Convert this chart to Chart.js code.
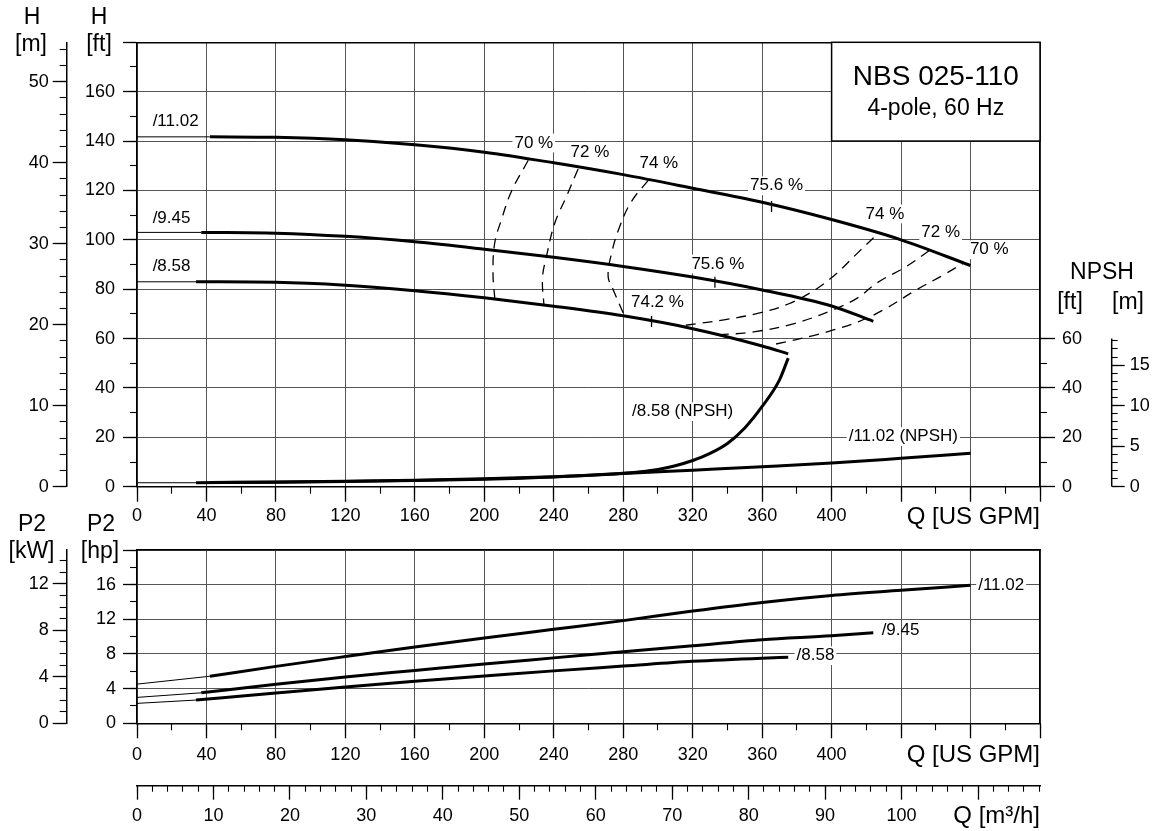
<!DOCTYPE html>
<html lang="en">
<head>
<meta charset="utf-8">
<title>NBS 025-110, 4-pole, 60 Hz</title>
<script src="https://cdn.jsdelivr.net/npm/chart.js@4.4.1/dist/chart.umd.min.js"></script>
<style>
  html, body { margin: 0; padding: 0; background: #fff; }
  #page { position: relative; width: 1152px; height: 831px; overflow: hidden; background: #fff; }
  #page canvas { position: absolute; left: 0; }
  #power { top: 500px; }
  #head { top: 0; }
</style>
</head>
<body>
<div id="page">
  <canvas id="power" width="1152" height="331"></canvas>
  <canvas id="head" width="1152" height="530"></canvas>
</div>
<script>
// unit conversions used by the secondary axes
const FT_PER_M = 3.28084;
const HP_PER_KW = 1.34102;
const GPM_PER_M3H = 4.402868;
const Q_MAX = 520;   // US GPM
const H_MAX = 180;   // ft
const P_MAX = 20;    // hp

// ---- head curves [ft] vs Q [US GPM] (solid part) ----
const qHead1102 = [42, 80, 120, 160, 200, 240, 280, 320, 360, 400, 440, 480];
const head1102  = [141.7, 141.5, 140.5, 138.5, 135.5, 131.2, 126.4, 120.9, 115.2, 108.2, 100.0, 89.6];
const qHead945  = [37, 80, 120, 160, 200, 240, 280, 320, 360, 400, 424];
const head945   = [103.0, 102.7, 101.4, 99.2, 96.2, 92.9, 89.2, 84.9, 79.7, 73.2, 67.0];
const qHead858  = [34, 80, 120, 160, 200, 240, 280, 320, 360, 375];
const head858   = [83.0, 82.8, 81.6, 79.4, 76.5, 73.1, 69.2, 64.0, 57.0, 53.8];

// ---- NPSH [ft] ----
const qNpsh1102 = [42, 80, 120, 160, 200, 240, 280, 320, 360, 400, 440, 480];
const npsh1102  = [1.7, 1.9, 2.2, 2.6, 3.2, 4.0, 5.3, 6.7, 8.1, 9.6, 11.5, 13.5];
const qNpsh858  = [34, 80, 120, 160, 200, 240, 270, 290, 300, 310, 320, 330, 340, 350, 360, 370, 375];
const npsh858   = [1.6, 1.8, 2.1, 2.5, 3.0, 3.9, 5.0, 6.1, 7.0, 8.5, 10.6, 13.5, 17.5, 23.8, 32.5, 43.3, 52.1];
const npshAtZero = 1.6;

// ---- iso-efficiency lines [Q, ft] ----
const qEta70a = [225.3, 215.6, 209.9, 206.0, 205.0, 206.0];
const hEta70a = [132.2, 119.6, 108.2, 98.7, 86.5, 76.4];
const qEta72a = [254.0, 247.3, 240.6, 235.8, 233.5, 234.3];
const hEta72a = [128.7, 117.6, 106.8, 93.3, 84.5, 73.7];
const qEta74a = [294.4, 284.8, 278.0, 273.3, 271.3, 274.2, 280.0];
const hEta74a = [124.1, 115.6, 105.4, 94.6, 85.2, 79.8, 70.3];
const qEta74b = [316, 338, 358, 375, 391, 403, 414, 426];
const hEta74b = [65.4, 67.6, 70.3, 74.0, 80.0, 86.5, 94.0, 102.1];
const qEta72b = [335, 355, 378, 401, 415, 426, 443, 457];
const hEta72b = [61.5, 62.7, 66.0, 71.7, 76.5, 82.5, 89.2, 96.0];
const qEta70b = [368, 390, 401, 416, 430, 449, 465, 476];
const hEta70b = [57.8, 61.3, 63.5, 67.0, 71.7, 79.8, 86.0, 90.6];
// best efficiency marks on each impeller curve
const qBep = [365.4, 332.8, 296.3];
const hBep = [113.5, 82.8, 66.9];

// ---- shaft power P2 [hp] ----
const qP1102 = [42, 80, 120, 160, 200, 240, 280, 320, 360, 400, 440, 480];
const p1102  = [5.43, 6.57, 7.7, 8.8, 9.85, 10.85, 11.85, 12.95, 13.95, 14.75, 15.35, 15.93];
const qP945  = [37, 80, 120, 160, 200, 240, 280, 320, 360, 400, 424];
const p945   = [3.52, 4.5, 5.35, 6.1, 6.85, 7.55, 8.25, 8.95, 9.65, 10.1, 10.45];
const qP858  = [34, 80, 120, 160, 200, 240, 280, 320, 360, 375];
const p858   = [2.68, 3.5, 4.2, 4.85, 5.45, 6.05, 6.6, 7.15, 7.52, 7.62];
const pAtZero = [4.52, 2.99, 2.3];   // /11.02, /9.45, /8.58

const FONT = "'Liberation Sans', Arial, Helvetica, sans-serif";
Chart.defaults.font.family = FONT;
Chart.defaults.color = '#000';

const GRID = '#555';
const INK = '#000';

const pts = (qs, vs) => qs.map((q, i) => ({ x: q, y: vs[i] }));
const stub = (v0, q1, v1) => [{ x: 0, y: v0 }, { x: q1, y: v1 }];
const hideAbove = lim => c => (c.tick && c.tick.value > lim + 1e-6) ? 'rgba(0,0,0,0)' : INK;
const fixW = w => s => { s.width = w; };
const fixH = h => s => { s.height = h; };

function curve(data, xId, yId, width) {
  return { type: 'line', data: data, xAxisID: xId, yAxisID: yId, borderColor: INK,
           borderWidth: width, pointRadius: 0, fill: false, cubicInterpolationMode: 'monotone' };
}
function dashed(data) {
  return { type: 'line', data: data, xAxisID: 'x', yAxisID: 'y', borderColor: INK,
           borderWidth: 1.3, borderDash: [10, 7], pointRadius: 0, fill: false, tension: 0.4 };
}

// main labelled axis
function mainAxis(pos, weight, max, step, len, pad, size, labelFn, gridOn, tickColor) {
  return {
    type: 'linear', position: pos, weight: weight, min: 0, max: max,
    ticks: { stepSize: step, autoSkip: false, maxRotation: 0, includeBounds: false,
             padding: pad, font: { size: 18 }, callback: labelFn },
    grid: { drawOnChartArea: gridOn, color: GRID, lineWidth: 1, tickLength: len,
            tickColor: tickColor || INK, tickWidth: 1.3 },
    border: { display: true, color: INK, width: 1.5 },
    afterFit: (pos === 'left' || pos === 'right') ? fixW(size) : fixH(size)
  };
}
// unlabelled axis that only carries the short minor ticks
function minorAxis(pos, weight, max, step, len, tickColor) {
  return {
    type: 'linear', position: pos, weight: weight, min: 0, max: max,
    ticks: { stepSize: step, display: false, includeBounds: false },
    grid: { drawOnChartArea: false, lineWidth: 1, tickLength: len, tickColor: tickColor || INK, tickWidth: 1.1 },
    border: { display: false },
    afterFit: (pos === 'left' || pos === 'right') ? fixW(0) : fixH(0)
  };
}
function frameAxis(pos, size) {
  return {
    type: 'linear', position: pos,
    ticks: { display: false }, grid: { drawOnChartArea: false, drawTicks: false },
    border: { display: true, color: INK, width: 1.5 },
    afterFit: (pos === 'left' || pos === 'right') ? fixW(size) : fixH(size)
  };
}

function putText(ctx, text, x, y, size, align, bg) {
  ctx.font = size + 'px ' + FONT;
  ctx.textAlign = align;
  ctx.textBaseline = 'middle';
  if (bg) {
    const w = ctx.measureText(text).width;
    const x0 = align === 'center' ? x - w / 2 : align === 'right' ? x - w : x;
    ctx.fillStyle = '#fff';
    ctx.fillRect(x0 - 2, y - size * 0.55, w + 4, size * 1.1);
  }
  ctx.fillStyle = INK;
  ctx.fillText(text, x, y);
}

function textPlugin(cfg) {
  return {
    id: 'sheetText',
    afterDatasetsDraw(chart) {
      const ctx = chart.ctx;
      const xs = chart.scales[cfg.xAxis], ys = chart.scales[cfg.yAxis];
      ctx.save();
      if (cfg.box) {
        const b = cfg.box;
        const x0 = xs.getPixelForValue(b.q0), x1 = xs.getPixelForValue(b.q1);
        const y0 = ys.getPixelForValue(b.v0), y1 = ys.getPixelForValue(b.v1);
        ctx.fillStyle = '#fff';
        ctx.fillRect(x0, y0, x1 - x0, y1 - y0);
        ctx.strokeStyle = INK;
        ctx.lineWidth = 1.5;
        ctx.strokeRect(x0, y0, x1 - x0, y1 - y0);
        ctx.fillStyle = INK;
        ctx.textAlign = 'center';
        ctx.textBaseline = 'alphabetic';
        ctx.font = '28px ' + FONT;
        ctx.fillText(b.line1, (x0 + x1) / 2, y0 + 42.7);
        ctx.font = '23px ' + FONT;
        ctx.fillText(b.line2, (x0 + x1) / 2, y0 + 72.7);
      }
      if (cfg.shortAxis) {
        // the NPSH [m] axis line only runs from 0 to 60 ft
        const s = chart.scales[cfg.shortAxis.id];
        ctx.strokeStyle = INK;
        ctx.lineWidth = 1.5;
        ctx.beginPath();
        ctx.moveTo(s.left, s.getPixelForValue(0));
        ctx.lineTo(s.left, s.getPixelForValue(cfg.shortAxis.top));
        ctx.stroke();
      }
      for (const t of cfg.titles) putText(ctx, t.text, t.x, t.y, t.size, t.align || 'center', false);
      for (const l of cfg.labels) {
        putText(ctx, l.text, xs.getPixelForValue(l.q), ys.getPixelForValue(l.v), 17, l.align || 'center', l.bg);
      }
      ctx.restore();
    }
  };
}

// ================= head / NPSH chart =================
const headText = {
  xAxis: 'x', yAxis: 'y',
  box: { q0: 400, q1: 520, v0: 180, v1: 140, line1: 'NBS 025-110', line2: '4-pole, 60 Hz' },
  shortAxis: { id: 'ynm', top: 60 / FT_PER_M },
  titles: [
    { text: 'H', x: 32, y: 18, size: 23 }, { text: '[m]', x: 31, y: 45, size: 23 },
    { text: 'H', x: 99, y: 18, size: 23 }, { text: '[ft]', x: 99, y: 45, size: 23 },
    { text: 'NPSH', x: 1102, y: 273, size: 23 },
    { text: '[ft]', x: 1070, y: 303, size: 23 }, { text: '[m]', x: 1128, y: 303, size: 23 },
    { text: 'Q [US GPM]', x: 1040, y: 517, size: 24, align: 'right' }
  ],
  labels: [
    { text: '/11.02', q: 9, v: 147.9, align: 'left' },
    { text: '/9.45', q: 9, v: 108.8, align: 'left' },
    { text: '/8.58', q: 9, v: 89.2, align: 'left' },
    { text: '70 %', q: 228.5, v: 139.2, bg: true },
    { text: '72 %', q: 260.8, v: 135.6, bg: true },
    { text: '74 %', q: 300.5, v: 130.9, bg: true },
    { text: '75.6 %', q: 368.3, v: 121.9, bg: true },
    { text: '74 %', q: 430.7, v: 110.5, bg: true },
    { text: '72 %', q: 462.8, v: 103.2, bg: true },
    { text: '70 %', q: 490.8, v: 96.0, bg: true },
    { text: '75.6 %', q: 334.5, v: 90.2, bg: true },
    { text: '74.2 %', q: 299.7, v: 74.6, bg: true },
    { text: '/8.58 (NPSH)', q: 314.2, v: 30.4, bg: true },
    { text: '/11.02 (NPSH)', q: 441.3, v: 20.3, bg: true }
  ]
};

const headScales = {
  xTop: frameAxis('top', 42.3),
  x: mainAxis('bottom', 1, Q_MAX, 40, 15, 4, 43.3, v => (v <= 400 ? v : ''), true),
  xMinor: minorAxis('bottom', 0, Q_MAX, 20, 7),
  y: mainAxis('left', 1, H_MAX, 20, 14, 8, 70.3, v => (v < 180 ? v : ''), true),
  yMinor: minorAxis('left', 0, H_MAX, 10, 7),
  ym: mainAxis('left', 3, H_MAX / FT_PER_M, 10, 14, 4, 66.7, v => v, false),
  ymMinor: minorAxis('left', 2, H_MAX / FT_PER_M, 2, 7),
  // NPSH axes only carry ticks up to 60 ft / 18 m
  yn: mainAxis('right', 1, H_MAX, 20, 15, 7, 71.7, v => (v <= 60 ? v : ''), false, hideAbove(60)),
  ynMinor: minorAxis('right', 0, H_MAX, 10, 7, hideAbove(60)),
  ynm: mainAxis('right', 3, H_MAX / FT_PER_M, 5, 13, 5, 40.3, v => (v <= 18.3 ? v : ''), false, hideAbove(18.3)),
  ynmMinor: minorAxis('right', 2, H_MAX / FT_PER_M, 1, 6, hideAbove(18.3))
};
headScales.ynm.border.display = false;

new Chart(document.getElementById('head'), {
  type: 'line',
  data: {
    datasets: [
      curve(stub(head1102[0], qHead1102[0], head1102[0]), 'x', 'y', 1),
      curve(pts(qHead1102, head1102), 'x', 'y', 3),
      curve(stub(head945[0], qHead945[0], head945[0]), 'x', 'y', 1),
      curve(pts(qHead945, head945), 'x', 'y', 3),
      curve(stub(head858[0], qHead858[0], head858[0]), 'x', 'y', 1),
      curve(pts(qHead858, head858), 'x', 'y', 3),
      curve(stub(npshAtZero, qNpsh858[0], npsh858[0]), 'x', 'yn', 1),
      curve(pts(qNpsh1102, npsh1102), 'x', 'yn', 3),
      curve(pts(qNpsh858, npsh858), 'x', 'yn', 3),
      dashed(pts(qEta70a, hEta70a)),
      dashed(pts(qEta72a, hEta72a)),
      dashed(pts(qEta74a, hEta74a)),
      dashed(pts(qEta74b, hEta74b)),
      dashed(pts(qEta72b, hEta72b)),
      dashed(pts(qEta70b, hEta70b)),
      { type: 'scatter', data: pts(qBep, hBep), xAxisID: 'x', yAxisID: 'y', showLine: false,
        pointStyle: 'line', rotation: 90, pointRadius: 5.5, borderColor: INK, borderWidth: 1.3 }
    ]
  },
  options: {
    responsive: false, animation: false, events: [],
    layout: { padding: 0 },
    plugins: { legend: { display: false }, tooltip: { enabled: false } },
    scales: headScales
  },
  plugins: [textPlugin(headText)]
});

// ================= power chart =================
const powerText = {
  xAxis: 'x2', yAxis: 'p',
  titles: [
    { text: 'P2', x: 32, y: 25, size: 23 }, { text: '[kW]', x: 31.5, y: 52, size: 23 },
    { text: 'P2', x: 101, y: 25, size: 23 }, { text: '[hp]', x: 100, y: 52, size: 23 },
    { text: 'Q [US GPM]', x: 1040, y: 255, size: 24, align: 'right' },
    { text: 'Q [m\u00B3/h]', x: 1040, y: 316.7, size: 24, align: 'right' }
  ],
  labels: [
    { text: '/11.02', q: 484.4, v: 15.9, align: 'left', bg: true },
    { text: '/9.45', q: 428.8, v: 10.7, align: 'left' },
    { text: '/8.58', q: 379.8, v: 7.8, align: 'left', bg: true }
  ]
};

new Chart(document.getElementById('power'), {
  type: 'line',
  data: {
    datasets: [
      curve(stub(pAtZero[0], qP1102[0], p1102[0]), 'x2', 'p', 1),
      curve(pts(qP1102, p1102), 'x2', 'p', 3),
      curve(stub(pAtZero[1], qP945[0], p945[0]), 'x2', 'p', 1),
      curve(pts(qP945, p945), 'x2', 'p', 3),
      curve(stub(pAtZero[2], qP858[0], p858[0]), 'x2', 'p', 1),
      curve(pts(qP858, p858), 'x2', 'p', 3)
    ]
  },
  options: {
    responsive: false, animation: false, events: [],
    layout: { padding: 0 },
    plugins: { legend: { display: false }, tooltip: { enabled: false } },
    scales: {
      top2: frameAxis('top', 50),
      r2: frameAxis('right', 112),
      x2: mainAxis('bottom', 1, Q_MAX, 40, 15, 6, 62.4, v => (v <= 400 ? v : ''), true),
      x2Minor: minorAxis('bottom', 0, Q_MAX, 20, 7),
      qm: mainAxis('bottom', 3, Q_MAX / GPM_PER_M3H, 10, 14, 6, 45.3, v => (v <= 100 ? v : ''), false),
      qmMinor: minorAxis('bottom', 2, Q_MAX / GPM_PER_M3H, 2, 6),
      p: mainAxis('left', 1, P_MAX, 4, 14, 7, 70.3, v => (v < 20 ? v : ''), true),
      pMinor: minorAxis('left', 0, P_MAX, 2, 7),
      kw: mainAxis('left', 3, P_MAX / HP_PER_KW, 4, 14, 4, 66.7, v => v, false),
      kwMinor: minorAxis('left', 2, P_MAX / HP_PER_KW, 1, 7)
    }
  },
  plugins: [textPlugin(powerText)]
});
</script>
</body>
</html>
